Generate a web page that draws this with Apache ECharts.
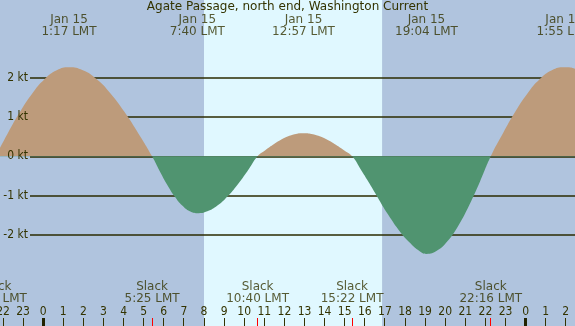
<!DOCTYPE html>
<html>
<head>
<meta charset="utf-8">
<script src="https://cdn.jsdelivr.net/npm/echarts@6/dist/echarts.min.js"></script>
<style>
  html, body { margin: 0; padding: 0; background: #b0c4de; }
  #chart { width: 575px; height: 326px; }
</style>
</head>
<body>
<div id="chart"></div>
<script>
// current speed (kt), hours from midnight Jan 15 (LMT)
const curveHours = [
  -2.37, -1.761, -1.152, -0.544, 0.065, 0.674, 1.283,
  1.972, 2.661, 3.35, 4.039, 4.728, 5.417,
  5.792, 6.167, 6.542, 6.917, 7.292, 7.667,
  8.167, 8.667, 9.167, 9.667, 10.167, 10.667,
  11.048, 11.428, 11.809, 12.189, 12.57, 12.95,
  13.353, 13.756, 14.158, 14.561, 14.964, 15.367,
  15.83, 16.24, 16.62, 17.15, 17.79, 18.23, 18.65, 19.067,
  19.6, 20.133, 20.667, 21.2, 21.733, 22.267,
  22.875, 23.483, 24.092, 24.7, 25.308, 25.917,
  26.6, 27.3
];
const curveKnots = [
  0, 0.588, 1.135, 1.605, 1.966, 2.193, 2.27,
  2.193, 1.966, 1.605, 1.135, 0.588, 0,
  -0.376, -0.725, -1.025, -1.256, -1.401, -1.45,
  -1.401, -1.256, -1.025, -0.725, -0.376, 0,
  0.153, 0.295, 0.417, 0.511, 0.57, 0.59,
  0.57, 0.511, 0.417, 0.295, 0.153, 0,
  -0.36, -0.7, -1.03, -1.48, -1.95, -2.2, -2.39, -2.49,
  -2.405, -2.156, -1.76, -1.245, -0.645, 0,
  0.588, 1.135, 1.605, 1.966, 2.193, 2.27,
  2.2, 1.95
];

// max current events (top labels)
const maxHours = [1.283, 7.667, 12.95, 19.067, 25.917];
const maxDates = ['Jan 15', 'Jan 15', 'Jan 15', 'Jan 15', 'Jan 16'];
const maxTimes = ['1:17', '7:40', '12:57', '19:04', '1:55'];

// slack water events (bottom labels)
const slackHours = [-2.37, 5.417, 10.667, 15.367, 22.267];
const slackTimes = ['21:38', '5:25', '10:40', '15:22', '22:16'];

const midnights = [0, 24];
const daylight = [8.0, 16.86];
const ktLevels = [-2, -1, 0, 1, 2];

const TEXT = '#333300';
const FLOOD = '#bd9b7b';
const EBB = '#509470';
const FONT = 'DejaVu Sans';
const CONDENSED = "'DejaVu Sans Condensed', 'DejaVu Sans'";

const chart = echarts.init(document.getElementById('chart'));

const curveData = curveHours.map((h, i) => [h, curveKnots[i]]);
const hrMin = -3, hrMax = 27;
const gridL = -17.1, gridR = -10.9;
const plotTop = 38.7, plotBottom = 52.1;

// tick marks along the bottom: [hour, kind] (0 = hour, 1 = midnight, 2 = slack)
const tickData = [];
for (let h = hrMin; h <= hrMax; h++) tickData.push([h, midnights.includes(h) ? 1 : 0]);
slackHours.forEach(h => tickData.push([h, 2]));

const tickStyles = [
  { w: 1, color: '#333300' },
  { w: 3, color: '#222200' },
  { w: 1, color: '#ff0000' }
];

function renderTick(params, api) {
  const kind = api.value(1);
  const st = tickStyles[kind];
  const top = api.coord([api.value(0), 318]);
  const bot = api.coord([api.value(0), 326]);
  const x = Math.round(top[0] - st.w / 2);
  return {
    type: 'rect',
    shape: { x: x, y: top[1], width: st.w, height: bot[1] - top[1] },
    style: { fill: st.color },
    z2: kind
  };
}

chart.setOption({
  backgroundColor: '#b0c4de',
  animation: false,
  title: {
    text: 'Agate Passage, north end, Washington Current',
    left: 'center',
    top: 1,
    padding: 0,
    textStyle: { fontFamily: FONT, fontSize: 12, fontWeight: 'normal', color: TEXT }
  },
  grid: [
    { left: gridL, right: gridR, top: 0, bottom: 0, outerBoundsMode: 'none' },
    { left: gridL, right: gridR, top: plotTop, bottom: plotBottom, outerBoundsMode: 'none' },
    { left: 30, right: 0, top: plotTop, bottom: plotBottom, outerBoundsMode: 'none' }
  ],
  xAxis: [
    {
      gridIndex: 0, type: 'value', min: hrMin, max: hrMax, interval: 1, z: 10,
      axisLine: { show: false },
      splitLine: { show: false },
      axisTick: { show: false },
      axisLabel: {
        inside: true, margin: 8, color: TEXT, fontFamily: CONDENSED, fontSize: 12,
        formatter: v => String(((v % 24) + 24) % 24)
      }
    },
    { gridIndex: 1, type: 'value', min: hrMin, max: hrMax, show: false },
    { gridIndex: 2, type: 'value', min: 0, max: 1, show: false }
  ],
  yAxis: [
    { gridIndex: 0, type: 'value', min: 0, max: 326, inverse: true, show: false },
    { gridIndex: 1, type: 'value', min: -3, max: 3, show: false },
    {
      gridIndex: 2, type: 'value', min: -3, max: 3, interval: 1, z: 10,
      axisLine: { show: false },
      axisTick: { show: false },
      splitLine: { show: false },
      axisLabel: {
        margin: 2, color: TEXT, fontFamily: CONDENSED, fontSize: 12,
        formatter: v => (Math.abs(v) <= 2 ? v + ' kt' : '')
      }
    }
  ],
  visualMap: {
    type: 'piecewise', show: false, seriesIndex: 2, dimension: 1,
    pieces: [{ gte: -10, lt: 0, color: EBB }, { gte: 0, lte: 10, color: FLOOD }]
  },
  series: [
    {
      // daylight band
      type: 'scatter', xAxisIndex: 0, yAxisIndex: 0, data: [], silent: true,
      markArea: {
        silent: true, z: 0,
        itemStyle: { color: '#e0f8ff' },
        data: [[{ xAxis: daylight[0] }, { xAxis: daylight[1] }]]
      }
    },
    {
      // level lines
      type: 'scatter', xAxisIndex: 2, yAxisIndex: 2, data: [], silent: true,
      markLine: {
        silent: true, symbol: ['none', 'none'], z: 1,
        label: { show: false },
        lineStyle: { color: '#2b2b00', width: 1.5, type: 'solid' },
        data: ktLevels.map(v => ({ yAxis: v }))
      }
    },
    {
      type: 'line', xAxisIndex: 1, yAxisIndex: 1, z: 3,
      data: curveData, smooth: true, showSymbol: false, silent: true,
      lineStyle: { width: 0 },
      areaStyle: { opacity: 1, origin: 0 }
    },
    {
      type: 'custom', xAxisIndex: 0, yAxisIndex: 0, z: 12, silent: true,
      renderItem: renderTick,
      data: tickData
    },
    {
      type: 'scatter', xAxisIndex: 0, yAxisIndex: 0, z: 5, silent: true,
      symbolSize: 1, itemStyle: { color: 'rgba(0,0,0,0)' },
      data: maxHours.map((h, i) => [h, 25.5, maxDates[i] + '\n' + maxTimes[i] + ' LMT']),
      label: {
        show: true, position: 'inside', formatter: p => p.value[2],
        color: TEXT, fontFamily: FONT, fontSize: 12, lineHeight: 12, align: 'center'
      }
    },
    {
      type: 'scatter', xAxisIndex: 0, yAxisIndex: 0, z: 5, silent: true,
      symbolSize: 1, itemStyle: { color: 'rgba(0,0,0,0)' },
      data: slackHours.map((h, i) => [h, 293, 'Slack\n' + slackTimes[i] + ' LMT']),
      label: {
        show: true, position: 'inside', formatter: p => p.value[2],
        color: TEXT, fontFamily: FONT, fontSize: 12, lineHeight: 12.5, align: 'center'
      }
    }
  ]
});
</script>
</body>
</html>
